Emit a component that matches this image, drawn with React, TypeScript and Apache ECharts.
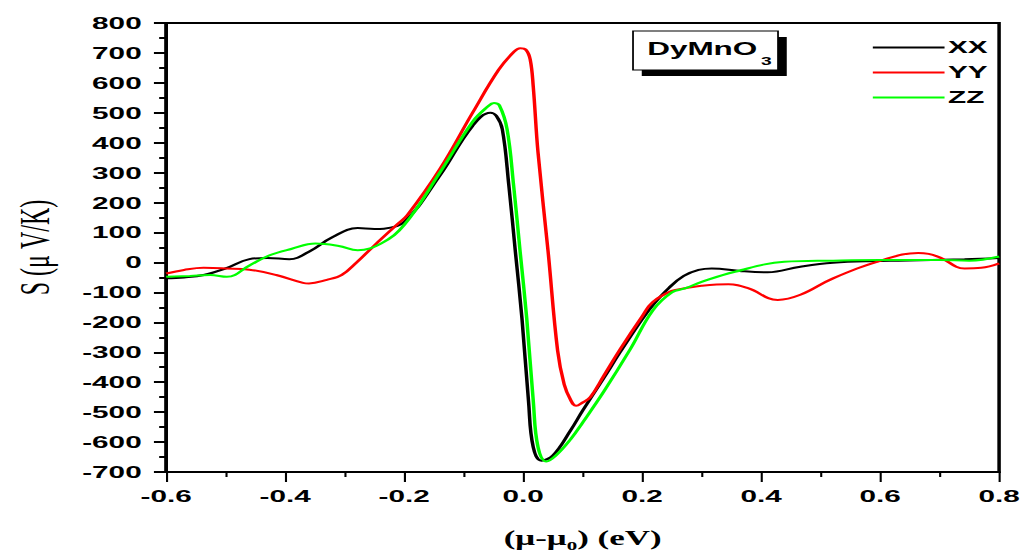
import React, { useEffect, useRef } from "react";
import * as echarts from "echarts";

// ---- data (energy in eV, Seebeck coefficient in µV/K) ----
const xxEnergy = [-0.6, -0.57, -0.537, -0.5, -0.46, -0.43, -0.393, -0.36, -0.32, -0.278, -0.25, -0.234, -0.2, -0.14, -0.085, -0.055, -0.045, -0.035, -0.024, -0.013, -0.002, 0.009, 0.017, 0.031, 0.05, 0.08, 0.1, 0.136, 0.163, 0.2, 0.22, 0.245, 0.27, 0.295, 0.317, 0.367, 0.411, 0.466, 0.521, 0.6, 0.631, 0.742, 0.8];
const xxS = [-53, -50, -42, -20, 11, 15, 11, 36, 85, 115, 112, 113, 135, 290, 456, 500, 490, 445, 257, 35, -186, -462, -617, -662, -645, -560, -495, -385, -300, -190, -138, -85, -45, -25, -20, -29, -33, -14, -1, 5, 6, 11, 15];

const yyEnergy = [-0.6, -0.57, -0.537, -0.5, -0.46, -0.415, -0.37, -0.36, -0.33, -0.305, -0.28, -0.25, -0.21, -0.195, -0.14, -0.085, -0.041, -0.015, -0.005, 0.005, 0.012, 0.017, 0.025, 0.042, 0.058, 0.069, 0.08, 0.089, 0.1, 0.113, 0.136, 0.163, 0.2, 0.218, 0.25, 0.273, 0.3, 0.345, 0.378, 0.428, 0.466, 0.521, 0.604, 0.664, 0.698, 0.742, 0.77, 0.8];
const yyS = [-37, -25, -18, -20, -24, -42, -68, -70, -58, -42, 0, 57, 130, 157, 312, 500, 644, 705, 716, 710, 677, 588, 368, 36, -295, -407, -460, -479, -468, -450, -377, -290, -180, -132, -95, -86, -78, -73, -86, -125, -108, -53, 8, 32, 19, -20, -18, -3];

const zzEnergy = [-0.6, -0.56, -0.526, -0.498, -0.46, -0.426, -0.39, -0.349, -0.31, -0.278, -0.239, -0.2, -0.14, -0.085, -0.06, -0.049, -0.04, -0.027, -0.016, -0.005, 0.006, 0.017, 0.025, 0.039, 0.055, 0.08, 0.1, 0.136, 0.18, 0.218, 0.25, 0.273, 0.3, 0.356, 0.439, 0.521, 0.6, 0.7, 0.75, 0.8];
const zzS = [-48, -45, -42, -48, -10, 24, 45, 63, 55, 41, 63, 125, 300, 470, 520, 533, 525, 445, 257, 35, -186, -462, -617, -665, -645, -590, -535, -430, -290, -160, -100, -86, -65, -31, 2, 6, 8, 8, 6, 20];

const seriesNames = ["XX", "YY", "ZZ"];
const seriesColors = ["#000000", "#ff0000", "#00ff00"];

const xTickLabels = ["-0.6", "-0.4", "-0.2", "0.0", "0.2", "0.4", "0.6", "0.8"];
const yTickLabels = ["-700", "-600", "-500", "-400", "-300", "-200", "-100", "0", "100", "200", "300", "400", "500", "600", "700", "800"];

const toPairs = (xs: number[], ys: number[]) => xs.map((x, i) => [x, ys[i]]);

// The reference image is horizontally stretched; render narrower and stretch.
const W = 586;
const H = 557;
const STRETCH = 1025 / W;

export default function App() {
  const ref = useRef<HTMLDivElement>(null);

  useEffect(() => {
    if (!ref.current) return;
    const chart = echarts.init(ref.current, null, { renderer: "svg" });
    const sans = "'Liberation Sans', Arial, sans-serif";
    const serif = "'Liberation Serif', 'Times New Roman', serif";

    const data = [toPairs(xxEnergy, xxS), toPairs(yyEnergy, yyS), toPairs(zzEnergy, zzS)];

    const option: any = {
      animation: false,
      backgroundColor: "#ffffff",
      grid: {
        left: 88.6,
        right: 13.1,
        top: 23,
        bottom: 82,
        show: true,
        borderColor: "#000",
        borderWidth: 2,
        backgroundColor: "transparent",
      },
      legend: {
        data: seriesNames.map((n, i) => ({ name: n, icon: "rect", itemStyle: { color: seriesColors[i] } })),
        orient: "vertical",
        left: 494,
        top: 34,
        itemWidth: 41,
        itemHeight: 2,
        itemGap: 8,
        textStyle: { fontSize: 17, fontWeight: "bold", fontFamily: sans, color: "#000", padding: [0, 0, 0, -3], lineHeight: 17 },
      },
      xAxis: {
        type: "value",
        min: -0.6,
        max: 0.8,
        interval: 0.2,
        name: "{a|(μ-μ}{s|0}{a|) (eV)}",
        nameLocation: "middle",
        nameGap: 52,
        nameTextStyle: {
          rich: {
            a: { fontFamily: serif, fontWeight: "bold", fontSize: 20, color: "#000" },
            s: { fontFamily: serif, fontWeight: "bold", fontSize: 12, color: "#000", padding: [16, 0, 0, 0] },
          },
        },
        axisLine: { onZero: false, lineStyle: { color: "#000", width: 2 } },
        axisTick: { show: true, length: 10, lineStyle: { color: "#000", width: 1.2 } },
        minorTick: { show: true, splitNumber: 2, length: 5, lineStyle: { color: "#000", width: 1.2 } },
        splitLine: { show: false },
        axisLabel: {
          margin: 16,
          fontSize: 17,
          fontWeight: "bold",
          fontFamily: sans,
          color: "#000",
          formatter: (v: number) => xTickLabels[Math.round((v + 0.6) / 0.2)] ?? "",
        },
      },
      yAxis: {
        type: "value",
        min: -700,
        max: 800,
        interval: 100,
        name: "S (μ V/K)",
        nameLocation: "middle",
        nameGap: 63,
        nameTextStyle: { fontFamily: serif, fontSize: 24, color: "#000" },
        axisLine: { onZero: false, lineStyle: { color: "#000", width: 2 } },
        axisTick: { show: true, length: 7, lineStyle: { color: "#000", width: 2 } },
        minorTick: { show: true, splitNumber: 2, length: 4, lineStyle: { color: "#000", width: 2 } },
        splitLine: { show: false },
        axisLabel: {
          margin: 14,
          fontSize: 17,
          fontWeight: "bold",
          fontFamily: sans,
          color: "#000",
          formatter: (v: number) => yTickLabels[Math.round((v + 700) / 100)] ?? "",
        },
      },
      series: seriesNames.map((name, i) => ({
        name,
        type: "line",
        data: data[i],
        symbol: "none",
        showSymbol: false,
        smooth: 0.4,
        lineStyle: { color: seriesColors[i], width: 2 },
        itemStyle: { color: seriesColors[i] },
      })),
      graphic: [
        { type: "rect", shape: { x: 366.9, y: 37, width: 82.9, height: 39 }, style: { fill: "#000" }, z: 10 },
        { type: "rect", shape: { x: 361.9, y: 31, width: 82.9, height: 39 }, style: { fill: "#fff", stroke: "#000", lineWidth: 1 }, z: 11 },
        {
          type: "text",
          x: 370,
          y: 48.5,
          style: { text: "DyMnO", fontSize: 18, fontWeight: "bold", fontFamily: sans, fill: "#000", verticalAlign: "middle", align: "left" },
          z: 12,
        },
        {
          type: "text",
          x: 435,
          y: 61.5,
          style: { text: "3", fontSize: 11, fontWeight: "bold", fontFamily: sans, fill: "#000", verticalAlign: "middle", align: "left" },
          z: 12,
        },
      ],
    };

    chart.setOption(option);
    return () => chart.dispose();
  }, []);

  return (
    <div
      ref={ref}
      style={{
        position: "absolute",
        left: 0,
        top: 0,
        width: W,
        height: H,
        transform: `scaleX(${STRETCH})`,
        transformOrigin: "0 0",
        background: "#fff",
      }}
    />
  );
}
